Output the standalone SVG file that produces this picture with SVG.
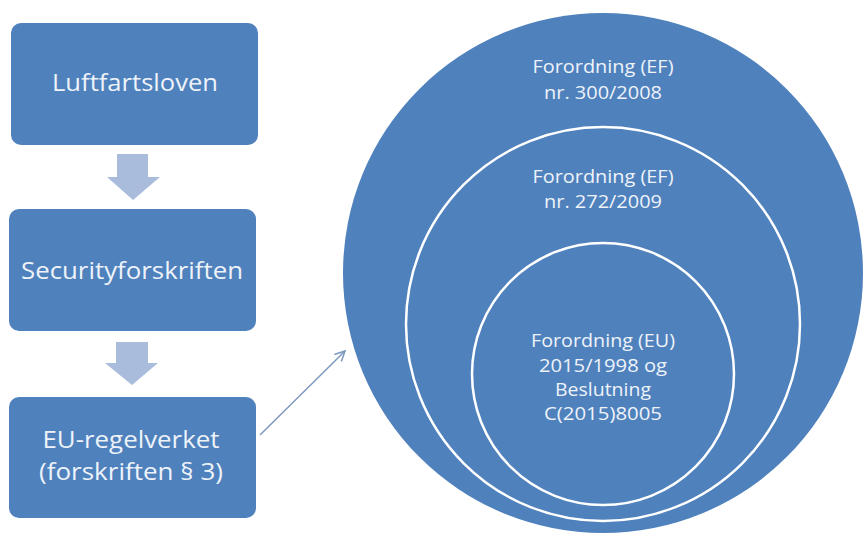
<svg xmlns="http://www.w3.org/2000/svg" width="863" height="536" viewBox="0 0 863 536">
  <defs>
    <style>
      .box { fill: #4f81bd; }
      .blk { fill: #a9bcdc; }
      .circ { fill: #4f81bd; stroke: #ffffff; stroke-width: 2.5; }
      .btxt { font-family: "Open Sans", "Liberation Sans", sans-serif; font-size: 23px; fill: #eef3f9; text-anchor: middle; }
      .ctxt { font-family: "Open Sans", "Liberation Sans", sans-serif; font-size: 18px; fill: #eef3f9; text-anchor: middle; }
      .conn { stroke: #7d98bf; stroke-width: 1.5; fill: none; }
    </style>
    <marker id="open" viewBox="0 0 12 12" refX="11" refY="6" markerWidth="12" markerHeight="12" markerUnits="userSpaceOnUse" orient="auto">
      <path d="M1,1 L11,6 L1,11" fill="none" stroke="#7d98bf" stroke-width="1.5"/>
    </marker>
  </defs>
  <rect width="863" height="536" fill="#ffffff"/>

  <g id="circles">
    <g id="outer">
      <circle cx="603" cy="273" r="260" fill="#4f81bd"/>
      <text class="ctxt" x="603" y="73" textLength="141" lengthAdjust="spacingAndGlyphs">Forordning (EF)</text>
      <text class="ctxt" x="603" y="99" textLength="118" lengthAdjust="spacingAndGlyphs">nr. 300/2008</text>
    </g>
    <g id="middle">
      <circle class="circ" cx="603" cy="324" r="197"/>
      <text class="ctxt" x="603" y="183" textLength="141" lengthAdjust="spacingAndGlyphs">Forordning (EF)</text>
      <text class="ctxt" x="603" y="208" textLength="118" lengthAdjust="spacingAndGlyphs">nr. 272/2009</text>
    </g>
    <g id="inner">
      <circle class="circ" cx="603" cy="374" r="131"/>
      <text class="ctxt" x="603" y="347" textLength="144" lengthAdjust="spacingAndGlyphs">Forordning (EU)</text>
      <text class="ctxt" x="603" y="372" textLength="128" lengthAdjust="spacingAndGlyphs">2015/1998 og</text>
      <text class="ctxt" x="603" y="396" textLength="96" lengthAdjust="spacingAndGlyphs">Beslutning</text>
      <text class="ctxt" x="603" y="420" textLength="118" lengthAdjust="spacingAndGlyphs">C(2015)8005</text>
    </g>
  </g>

  <g id="luftfartsloven">
    <rect class="box" x="11" y="23" width="247" height="122" rx="10"/>
    <text class="btxt" x="135" y="91" textLength="166" lengthAdjust="spacingAndGlyphs">Luftfartsloven</text>
  </g>
  <g id="securityforskriften">
    <rect class="box" x="9" y="209" width="247" height="122" rx="10"/>
    <text class="btxt" x="132" y="279" textLength="222" lengthAdjust="spacingAndGlyphs">Securityforskriften</text>
  </g>
  <g id="eu-regelverket">
    <rect class="box" x="9" y="397" width="247" height="121" rx="10"/>
    <text class="btxt" x="131" y="448" textLength="177" lengthAdjust="spacingAndGlyphs">EU-regelverket</text>
    <text class="btxt" x="131" y="480" textLength="184" lengthAdjust="spacingAndGlyphs">(forskriften § 3)</text>
  </g>

  <g id="connectors">
    <path class="blk" d="M117,154 H148 V177 H160 L133,200 L107,177 H117 Z"/>
    <path class="blk" d="M116,342 H148 V363 H158 L132,385 L105,363 H116 Z"/>
    <line class="conn" x1="260" y1="435" x2="345" y2="351" marker-end="url(#open)"/>
  </g>
</svg>
